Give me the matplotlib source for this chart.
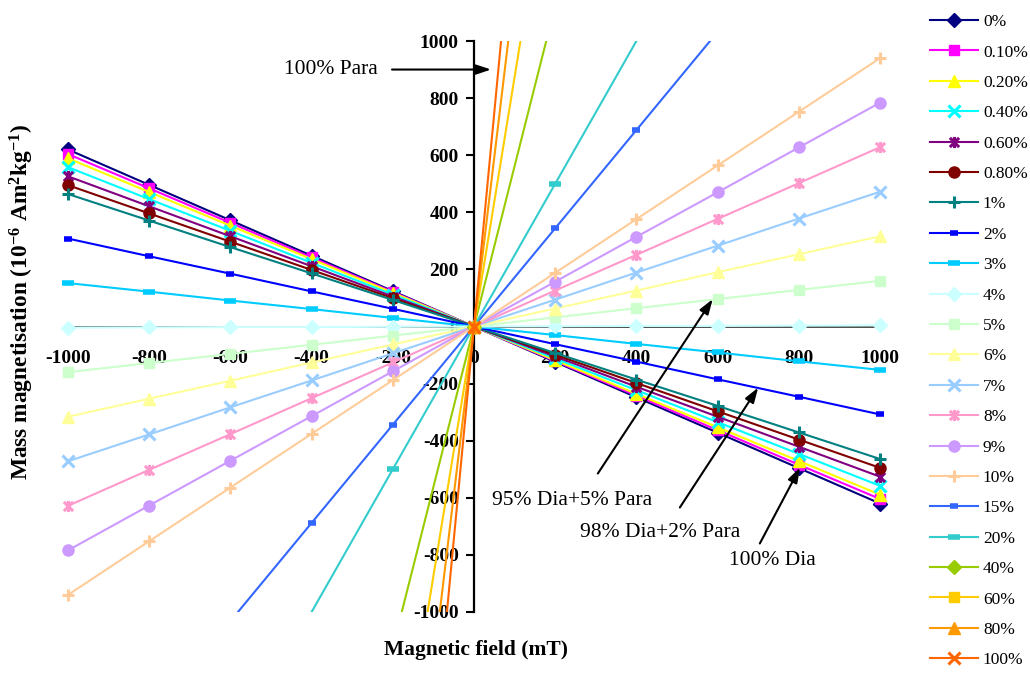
import matplotlib
matplotlib.use("Agg")
import matplotlib.pyplot as plt
from matplotlib.lines import Line2D
from matplotlib.path import Path

plt.rcParams["font.family"] = ["Liberation Serif", "DejaVu Serif"]
plt.rcParams["mathtext.fontset"] = "custom"
plt.rcParams["mathtext.rm"] = "Liberation Serif"
plt.rcParams["mathtext.bf"] = "Liberation Serif:bold"
plt.rcParams["mathtext.default"] = "bf"
plt.rcParams["axes.unicode_minus"] = False

# field (mT)
field = [-1000, -800, -600, -400, -200, 0, 200, 400, 600, 800, 1000]

# mass magnetisation (10^-6 Am2/kg) per % paramagnetic content
p0 = [620, 496, 372, 248, 124, 0, -124, -248, -372, -496, -620]
p0_1 = [604, 484, 363, 242, 121, 0, -121, -242, -363, -484, -604]
p0_2 = [589, 471, 353, 236, 118, 0, -118, -236, -353, -471, -589]
p0_4 = [558, 446, 335, 223, 112, 0, -112, -223, -335, -446, -558]
p0_6 = [526, 421, 316, 211, 105, 0, -105, -211, -316, -421, -526]
p0_8 = [495, 396, 297, 198, 99, 0, -99, -198, -297, -396, -495]
p1 = [464, 371, 278, 186, 93, 0, -93, -186, -278, -371, -464]
p2 = [308, 246, 185, 123, 62, 0, -62, -123, -185, -246, -308]
p3 = [152, 122, 91, 61, 30, 0, -30, -61, -91, -122, -152]
p4 = [-4, -3, -2, -2, -1, 0, 1, 2, 2, 3, 4]
p5 = [-160, -128, -96, -64, -32, 0, 32, 64, 96, 128, 160]
p6 = [-316, -253, -190, -126, -63, 0, 63, 126, 190, 253, 316]
p7 = [-472, -378, -283, -189, -94, 0, 94, 189, 283, 378, 472]
p8 = [-628, -502, -377, -251, -126, 0, 126, 251, 377, 502, 628]
p9 = [-784, -627, -470, -314, -157, 0, 157, 314, 470, 627, 784]
p10 = [-940, -752, -564, -376, -188, 0, 188, 376, 564, 752, 940]
p15 = [-1720, -1376, -1032, -688, -344, 0, 344, 688, 1032, 1376, 1720]
p20 = [-2500, -2000, -1500, -1000, -500, 0, 500, 1000, 1500, 2000, 2500]
p40 = [-5620, -4496, -3372, -2248, -1124, 0, 1124, 2248, 3372, 4496, 5620]
p60 = [-8740, -6992, -5244, -3496, -1748, 0, 1748, 3496, 5244, 6992, 8740]
p80 = [-11860, -9488, -7116, -4744, -2372, 0, 2372, 4744, 7116, 9488, 11860]
p100 = [-15000, -12000, -9000, -6000, -3000, 0, 3000, 6000, 9000, 12000, 15000]

labels = ["0%", "0.10%", "0.20%", "0.40%", "0.60%", "0.80%", "1%", "2%", "3%",
          "4%", "5%", "6%", "7%", "8%", "9%", "10%", "15%", "20%", "40%",
          "60%", "80%", "100%"]
series = [p0, p0_1, p0_2, p0_4, p0_6, p0_8, p1, p2, p3, p4, p5, p6, p7, p8,
          p9, p10, p15, p20, p40, p60, p80, p100]

colors = ["#000080", "#FF00FF", "#FFFF00", "#00FFFF", "#800080", "#800000",
          "#008080", "#0000FF", "#00CCFF", "#CCFFFF", "#CCFFCC", "#FFFF99",
          "#99CCFF", "#FF99CC", "#CC99FF", "#FFCC99", "#3366FF", "#33CCCC",
          "#99CC00", "#FFCC00", "#FF9900", "#FF6600"]

star = Path([(-1, -1), (1, 1), (-1, 1), (1, -1), (0, -1.2), (0, 1.2)],
            [Path.MOVETO, Path.LINETO, Path.MOVETO, Path.LINETO, Path.MOVETO, Path.LINETO])
# marker, size, edge width
cycle = [("D", 7, 1), ("s", 7, 1), ("^", 8, 1), ("x", 8, 2.2), (star, 8, 2.2),
         ("o", 8, 1), ("+", 9, 2.2), ("_", 6, 4), ("_", 9, 4)]
styles = [cycle[i % len(cycle)] for i in range(len(series))]

YMAX = 1000

fig = plt.figure(figsize=(10.30, 6.73), dpi=100)
ax = fig.add_axes([68 / 1030, 1 - 612 / 673, 812 / 1030, 571 / 673])

handles = []
for vals, lab, col, (mk, ms, mew) in zip(series, labels, colors, styles):
    # line clipped to the plot area, markers only where the point is inside it
    ax.plot(field, vals, color=col, lw=1.5)
    inside = [(f, v) for f, v in zip(field, vals) if abs(v) < YMAX]
    ax.plot([p[0] for p in inside], [p[1] for p in inside], ls="none", marker=mk,
            ms=ms, mew=mew, mfc=col, mec=col, clip_on=False)
    handles.append(Line2D([], [], color=col, lw=1.5, marker=mk, ms=ms, mew=mew,
                          mfc=col, mec=col, label=lab))

ax.set_xlim(-1000, 1000)
ax.set_ylim(-YMAX, YMAX)
ax.spines["top"].set_visible(False)
ax.spines["right"].set_visible(False)
ax.spines["left"].set_position(("data", 0))
ax.spines["bottom"].set_position(("data", 0))
ax.spines["left"].set_linewidth(1.6)
ax.spines["bottom"].set_color("#404040")
ax.spines["bottom"].set_linewidth(1.3)
for s in ax.spines.values():
    s.set_zorder(1)

ticks = list(range(-1000, 1001, 200))
ax.set_xticks(ticks)
ax.set_yticks(ticks)
ax.tick_params(axis="x", direction="out", length=3, width=1, color="#404040",
               pad=14, labelsize=14)
ax.tick_params(axis="y", direction="out", length=6, width=1.5, pad=5, labelsize=14)
for t in ax.get_xticklabels() + ax.get_yticklabels():
    t.set_fontweight("bold")

fig.text(476 / 1030, 1 - 650 / 673, "Magnetic field (mT)", ha="center", va="center",
         fontsize=15.5, fontweight="bold")
fig.text(22 / 1030, 1 - 302 / 673,
         r"Mass magnetisation (10$^{-6}$ Am$^{2}$kg$^{-1}$)",
         ha="center", va="center", rotation=90, fontsize=16.8, fontweight="bold")

arrow = dict(arrowstyle="-|>,head_length=0.9,head_width=0.3", color="black", lw=1.5,
             shrinkA=0, shrinkB=0)
ax.annotate("", xy=(42, 900), xytext=(-202, 900), arrowprops=arrow)
ax.text(-237, 900, "100% Para", ha="right", va="center", fontsize=15.5)

ax.annotate("", xy=(588, 96), xytext=(305, -515), arrowprops=arrow)
ax.text(44, -610, "95% Dia+5% Para", ha="left", va="center", fontsize=15.5)

ax.annotate("", xy=(700, -214), xytext=(507, -634), arrowprops=arrow)
ax.text(260, -722, "98% Dia+2% Para", ha="left", va="center", fontsize=15.5)

ax.annotate("", xy=(803, -494), xytext=(704, -760), arrowprops=arrow)
ax.text(629, -818, "100% Dia", ha="left", va="center", fontsize=15.5)

fig.legend(handles=handles, loc="upper left", bbox_to_anchor=(930 / 1030, 1 - 14 / 673),
           frameon=False, fontsize=12.5, handlelength=2.75, handletextpad=0.3,
           labelspacing=0.82, borderaxespad=0, borderpad=0)

fig.savefig("out.png", dpi=100)
